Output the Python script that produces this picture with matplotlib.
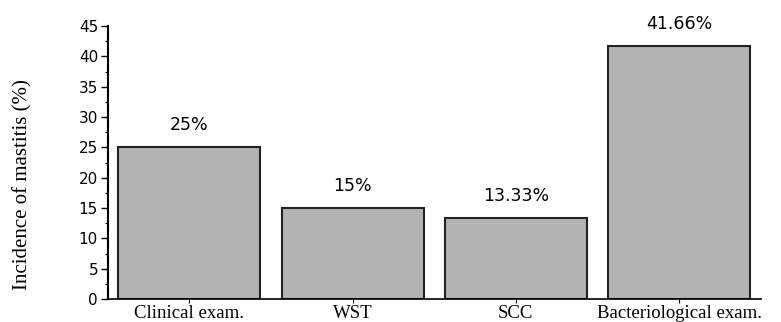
import matplotlib.pyplot as plt
import numpy as np
from matplotlib.ticker import MultipleLocator

# incidence of mastitis by diagnostic method
methods = ['Clinical exam.', 'WST', 'SCC', 'Bacteriological exam.']
incidence = [25, 15, 13.33, 41.66]
value_labels = ['25%', '15%', '13.33%', '41.66%']

fig = plt.figure(figsize=(7.81, 3.22), dpi=100)
ax = fig.add_axes([0.138, 0.071, 0.836, 0.848])

x = np.arange(len(methods))
ax.bar(x, incidence, width=0.87, color='#b3b3b3', edgecolor='#222222', linewidth=1.5)

for xi, val, lab in zip(x, incidence, value_labels):
    ax.text(xi, val + 2.2, lab, ha='center', va='bottom', fontsize=12.5,
            family='DejaVu Sans', color='black')

ax.set_xlim(-0.5, 3.5)
ax.set_ylim(0, 45)
ax.yaxis.set_major_locator(MultipleLocator(5))
ax.yaxis.set_minor_locator(MultipleLocator(2.5))

ax.set_xticks(x)
ax.set_xticklabels(methods, family='Liberation Serif', fontsize=13.5)
ax.tick_params(axis='x', length=3, width=0.8, pad=1)
ax.tick_params(axis='y', which='major', length=5, width=1, labelsize=11, pad=2)
ax.tick_params(axis='y', which='minor', length=2.5, width=0.8)
for lab in ax.get_yticklabels():
    lab.set_family('DejaVu Sans')

ax.set_ylabel('Incidence of mastitis (%)', family='Liberation Serif', fontsize=15)
ax.yaxis.set_label_coords(-0.115, 0.418)

ax.spines['top'].set_visible(False)
ax.spines['right'].set_visible(False)
ax.spines['left'].set_linewidth(1.5)
ax.spines['bottom'].set_linewidth(1.2)

fig.savefig('out.png', dpi=100)
